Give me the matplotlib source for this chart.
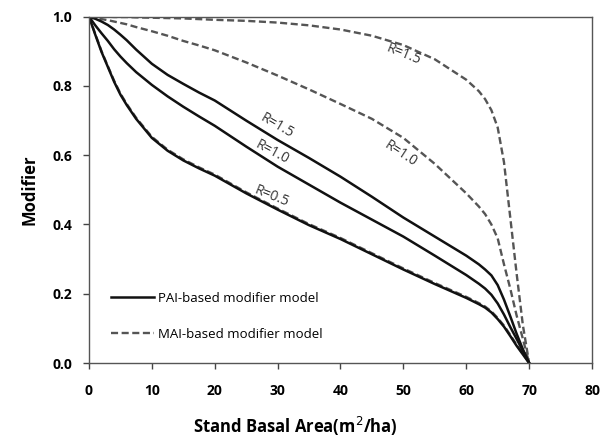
import matplotlib
matplotlib.use("Agg")
import matplotlib.pyplot as plt

# ---- data ----
x_vals = [0, 1, 2, 3, 4, 5, 6, 7.5, 10, 12.5, 15, 17.5, 20, 25, 30, 35, 40, 45, 50, 55,
          60, 62, 63, 64, 65, 66, 67, 68, 69, 70]

pai_r05 = [1.0, 0.948, 0.898, 0.855, 0.812, 0.775, 0.745, 0.705, 0.650, 0.613, 0.585, 0.562, 0.541,
           0.49, 0.443, 0.398, 0.358, 0.314, 0.27, 0.228, 0.188, 0.17, 0.16, 0.146, 0.127, 0.105,
           0.078, 0.05, 0.025, 0.0]
pai_r10 = [1.0, 0.975, 0.952, 0.93, 0.906, 0.885, 0.866, 0.84, 0.803, 0.77, 0.74, 0.712, 0.685,
           0.625, 0.567, 0.515, 0.463, 0.414, 0.365, 0.31, 0.254, 0.229, 0.215, 0.197, 0.172, 0.14,
           0.104, 0.07, 0.035, 0.0]
pai_r15 = [1.0, 0.994, 0.986, 0.976, 0.963, 0.948, 0.932, 0.905, 0.864, 0.832, 0.806, 0.781, 0.758,
           0.70, 0.644, 0.592, 0.538, 0.48, 0.42, 0.365, 0.31, 0.285, 0.27, 0.253, 0.225, 0.183,
           0.135, 0.085, 0.04, 0.0]

mai_r05 = [1.0, 0.950, 0.900, 0.857, 0.815, 0.778, 0.748, 0.708, 0.653, 0.616, 0.588, 0.565, 0.544,
           0.493, 0.446, 0.401, 0.361, 0.317, 0.273, 0.231, 0.191, 0.173, 0.163, 0.149, 0.13, 0.108,
           0.081, 0.053, 0.027, 0.0]
mai_r10 = [1.0, 0.997, 0.993, 0.99, 0.986, 0.982, 0.978, 0.97, 0.958, 0.945, 0.93, 0.917, 0.903,
           0.868, 0.83, 0.79, 0.748, 0.705, 0.65, 0.575, 0.49, 0.452, 0.43, 0.40, 0.36, 0.285,
           0.215, 0.138, 0.07, 0.0]
mai_r15 = [1.0, 1.0, 1.0, 1.0, 0.999, 0.999, 0.999, 0.998, 0.997, 0.996, 0.995, 0.993, 0.991,
           0.988, 0.983, 0.975, 0.963, 0.945, 0.918, 0.877, 0.818, 0.785, 0.762, 0.73, 0.68, 0.58,
           0.42, 0.26, 0.11, 0.0]

curve_labels = ["R=1.5", "R=1.0", "R=1.5", "R=1.0", "R=0.5"]
label_x = [50, 49.5, 29.9, 29.1, 29.1]
label_y = [0.89, 0.605, 0.685, 0.607, 0.48]
label_rot = [-22, -33, -30, -28, -22]

x_ticks = [0, 10, 20, 30, 40, 50, 60, 70, 80]
y_ticks = [0.0, 0.2, 0.4, 0.6, 0.8, 1.0]
legend_labels = ["PAI-based modifier model", "MAI-based modifier model"]

# ---- plot ----
plt.rcParams['font.family'] = ['Open Sans', 'DejaVu Sans']
fig = plt.figure(figsize=(6.07, 4.37), dpi=100)
ax = fig.add_axes([0.1466, 0.1693, 0.8287, 0.7925])

dash_kw = dict(color='#555555', lw=1.7, dashes=(3, 1.5))
solid_kw = dict(color='#111111', lw=1.8)

ax.plot(x_vals, mai_r05, **dash_kw)
ax.plot(x_vals, mai_r10, **dash_kw)
ax.plot(x_vals, mai_r15, **dash_kw)
ax.plot(x_vals, pai_r05, **solid_kw)
ax.plot(x_vals, pai_r10, **solid_kw)
ax.plot(x_vals, pai_r15, **solid_kw)

for t, lx, ly, r in zip(curve_labels, label_x, label_y, label_rot):
    ax.text(lx, ly, t, rotation=r, ha='center', va='center', fontsize=10,
            color='#333333', rotation_mode='anchor')

# legend
h1, = ax.plot([], [], **solid_kw)
h2, = ax.plot([], [], **dash_kw)
ax.legend([h1, h2], legend_labels, loc='lower left', bbox_to_anchor=(0.02, 0.03),
          frameon=False, fontsize=9.5, labelspacing=1.75, handlelength=3.3,
          handletextpad=0.3)

ax.set_xlim(0, 80)
ax.set_ylim(0, 1.0)
ax.set_xticks(x_ticks)
ax.set_yticks(y_ticks)
ax.set_xticklabels([str(v) for v in x_ticks], fontweight='bold', fontsize=10)
ax.set_yticklabels([f"{v:.1f}" for v in y_ticks], fontweight='bold', fontsize=10)
ax.tick_params(direction='out', length=4, width=1, color='#444444')
ax.tick_params(axis='x', pad=11)
ax.tick_params(axis='y', pad=8)
for s in ax.spines.values():
    s.set_color('#555555')
    s.set_linewidth(1.0)

ax.set_xlabel("Stand Basal Area(m$^2$/ha)", fontweight='bold', fontsize=12)
ax.xaxis.set_label_coords(0.41, -0.15)
ax.set_ylabel("Modifier", fontweight='bold', fontsize=12)
ax.yaxis.set_label_coords(-0.1, 0.5)

fig.savefig("out.png", dpi=100)
